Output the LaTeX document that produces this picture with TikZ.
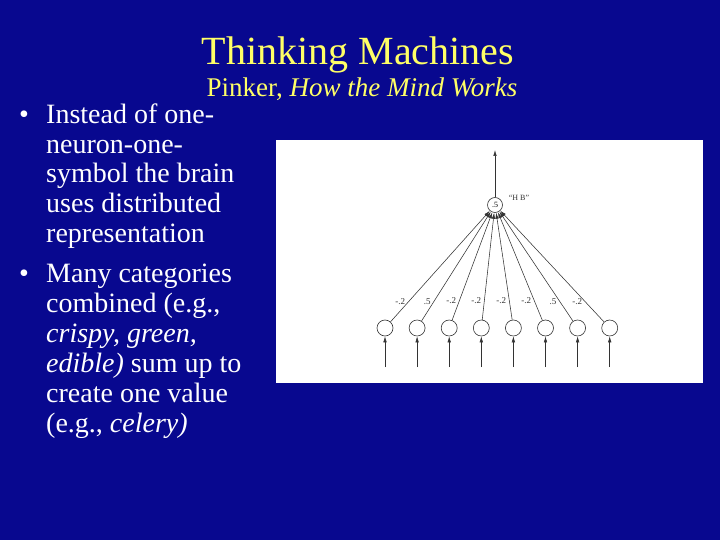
\documentclass[tikz,border=0pt]{standalone}
\usepackage{fontspec}
\setmainfont{Liberation Serif}
\usepackage{xcolor}
\definecolor{SlideBlue}{HTML}{08088F}
\definecolor{TitleYellow}{HTML}{FFFF66}
\definecolor{WireGray}{HTML}{333333}
\usetikzlibrary{arrows.meta}

\begin{document}
\begin{tikzpicture}[x=1pt, y=-1pt,
    every node/.style={inner sep=0pt},
    unit/.style={draw=WireGray, circle, minimum size=16pt, line width=0.6pt},
    wire/.style={draw=WireGray, line width=0.55pt, -{Latex[length=6pt,width=3.5pt]}},
    weight/.style={font=\fontsize{9}{10}\selectfont, text=WireGray, anchor=east, inner sep=3pt},
    bodytext/.style={font=\fontsize{28}{30}\selectfont, text=white, anchor=base west}]
        % Fond bleu de la diapositive
        \fill[SlideBlue] (0,0) rectangle (720,540);
        \useasboundingbox (0,0) rectangle (720,540);

        % Titre et sous-titre
        \node[anchor=base, text=TitleYellow, font=\fontsize{40}{44}\selectfont] (title) at (358,65) {Thinking Machines};
        \node[anchor=base, text=TitleYellow, font=\fontsize{27}{30}\selectfont] (subtitle) at (362,97) {Pinker, \textit{How the Mind Works}};

        % Puces
        \node[bodytext, anchor=base] (b1) at (24,124) {\textbullet};
        \node[bodytext, anchor=base] (b2) at (24,282) {\textbullet};
        \foreach \i/\y/\txt in {1/124/{Instead of one-}, 2/154/{neuron-one-}, 3/183/{symbol the brain},
            4/213/{uses distributed}, 5/243/{representation}, 6/282/{Many categories},
            7/312/{combined (e.g.,}, 8/342/{\textit{crispy, green,}}, 9/372/{\textit{edible)} sum up to},
            10/402/{create one value}, 11/432/{(e.g., \textit{celery)}}}
            \node[bodytext] (line\i) at (46,\y) {\txt};

        % Panneau blanc du reseau
        \fill[white] (276,140) rectangle (703,383);

        % Unite de sortie
        \node[unit, minimum size=15pt, font=\fontsize{8}{9}\selectfont] (out) at (495,205) {.5};
        \coordinate (outtip) at (495,150);
        \draw[wire] (out) -- (outtip);
        \node[font=\fontsize{8}{9}\selectfont, text=WireGray] (outname) at (519,198) {``H B''};

        % Unites d'entree, fleches et poids
        \foreach \i/\w in {1/-.2, 2/.5, 3/-.2, 4/-.2, 5/-.2, 6/-.2, 7/.5, 8/-.2} {
            \node[unit] (in\i) at ({385+32.1*(\i-1)},328) {};
            \coordinate (src\i) at ({385+32.1*(\i-1)},367);
            \draw[wire] (src\i) -- (in\i);
            \draw[wire] (in\i) -- node[weight, pos=0.18] {\w} (out);
        }
    \end{tikzpicture}
\end{document}
